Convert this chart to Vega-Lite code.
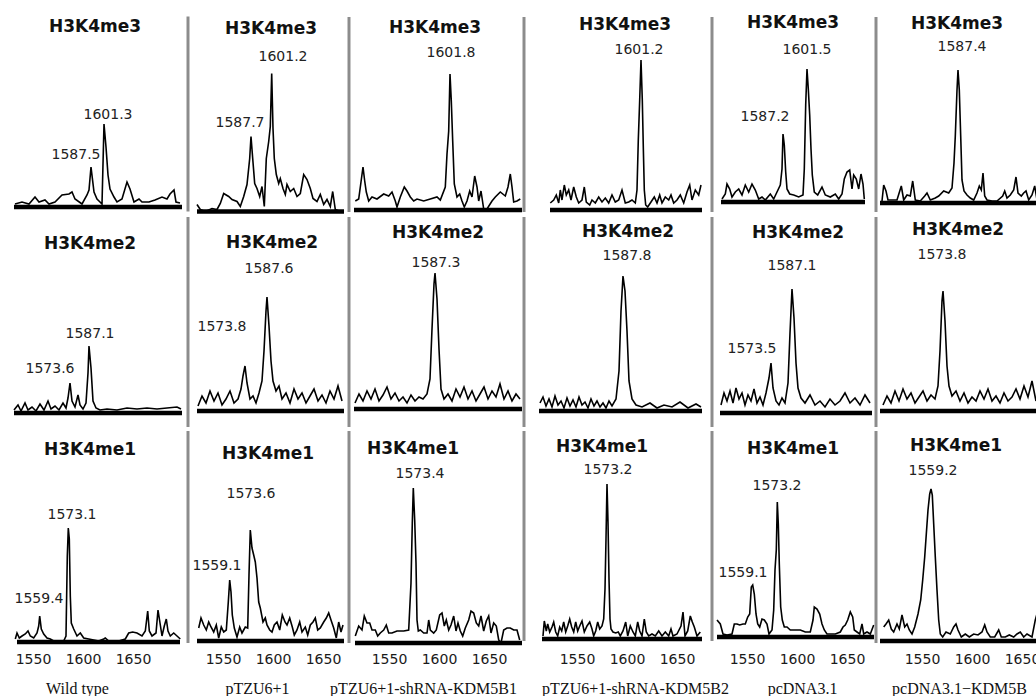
{
"$schema":"https://vega.github.io/schema/vega-lite/v6.json",
"background":"white",
"padding":{"left":10,"top":0,"right":0,"bottom":0},
"spacing":0,
"config":{"view":{"stroke":null},"line":{"color":"#000","strokeWidth":1.6},"text":{"font":"DejaVu Sans","fontSize":14,"color":"#222"},
"axis":{"domain":false,"ticks":false,"tickSize":0,"grid":false,"labelFont":"DejaVu Sans","labelFontSize":14,"labelColor":"#1a1a1a","labelPadding":9,"labelFlush":false,"titleFont":"Liberation Serif","titleFontSize":16,"titleFontWeight":"normal","titleColor":"#111","titleY":45,"titleBaseline":"middle"}},
"data":{"values":[
{"c":1,"r":3,"k":"t","x":1612,"y":180,"t":"H3K4me3"},{"c":1,"r":2,"k":"t","x":1607,"y":169,"t":"H3K4me2"},{"c":1,"r":1,"k":"t","x":1607,"y":192,"t":"H3K4me1"},
{"c":2,"r":3,"k":"t","x":1598,"y":183,"t":"H3K4me3"},{"c":2,"r":2,"k":"t","x":1599,"y":168,"t":"H3K4me2"},{"c":2,"r":1,"k":"t","x":1595,"y":187,"t":"H3K4me1"},
{"c":3,"r":3,"k":"t","x":1596,"y":182,"t":"H3K4me3"},{"c":3,"r":2,"k":"t","x":1599,"y":176,"t":"H3K4me2"},{"c":3,"r":1,"k":"t","x":1574,"y":194,"t":"H3K4me1"},
{"c":4,"r":3,"k":"t","x":1598,"y":185,"t":"H3K4me3"},{"c":4,"r":2,"k":"t","x":1601,"y":179,"t":"H3K4me2"},{"c":4,"r":1,"k":"t","x":1575,"y":192,"t":"H3K4me1"},
{"c":5,"r":3,"k":"t","x":1596,"y":179,"t":"H3K4me3"},{"c":5,"r":2,"k":"t","x":1601,"y":180,"t":"H3K4me2"},{"c":5,"r":1,"k":"t","x":1596,"y":188,"t":"H3K4me1"},
{"c":6,"r":3,"k":"t","x":1585,"y":179,"t":"H3K4me3"},{"c":6,"r":2,"k":"t","x":1586,"y":181,"t":"H3K4me2"},{"c":6,"r":1,"k":"t","x":1584,"y":195,"t":"H3K4me1"},
{"c":1,"r":3,"k":"p","x":1625,"y":92,"t":"1601.3"},{"c":1,"r":3,"k":"p","x":1593,"y":52,"t":"1587.5"},{"c":1,"r":2,"k":"p","x":1607,"y":79,"t":"1587.1"},{"c":1,"r":2,"k":"p","x":1567,"y":44,"t":"1573.6"},{"c":1,"r":1,"k":"p","x":1589,"y":127,"t":"1573.1"},{"c":1,"r":1,"k":"p","x":1556,"y":43,"t":"1559.4"},
{"c":2,"r":3,"k":"p","x":1610,"y":155,"t":"1601.2"},{"c":2,"r":3,"k":"p","x":1567,"y":89,"t":"1587.7"},{"c":2,"r":2,"k":"p","x":1596,"y":142,"t":"1587.6"},{"c":2,"r":2,"k":"p","x":1549,"y":84,"t":"1573.8"},{"c":2,"r":1,"k":"p","x":1578,"y":147,"t":"1573.6"},{"c":2,"r":1,"k":"p","x":1544,"y":75,"t":"1559.1"},
{"c":3,"r":3,"k":"p","x":1612,"y":157,"t":"1601.8"},{"c":3,"r":2,"k":"p","x":1597,"y":146,"t":"1587.3"},{"c":3,"r":1,"k":"p","x":1581,"y":169,"t":"1573.4"},
{"c":4,"r":3,"k":"p","x":1612,"y":160,"t":"1601.2"},{"c":4,"r":2,"k":"p","x":1600,"y":155,"t":"1587.8"},{"c":4,"r":1,"k":"p","x":1581,"y":169,"t":"1573.2"},
{"c":5,"r":3,"k":"p","x":1610,"y":152,"t":"1601.5"},{"c":5,"r":3,"k":"p","x":1568,"y":85,"t":"1587.2"},{"c":5,"r":2,"k":"p","x":1595,"y":147,"t":"1587.1"},{"c":5,"r":2,"k":"p","x":1555,"y":64,"t":"1573.5"},{"c":5,"r":1,"k":"p","x":1580,"y":151,"t":"1573.2"},{"c":5,"r":1,"k":"p","x":1546,"y":64,"t":"1559.1"},
{"c":6,"r":3,"k":"p","x":1590,"y":156,"t":"1587.4"},{"c":6,"r":2,"k":"p","x":1570,"y":156,"t":"1573.8"},{"c":6,"r":1,"k":"p","x":1561,"y":170,"t":"1559.2"},
{"c":1,"r":3,"k":"b","x":1531,"x2":1699,"y":0},{"c":1,"r":2,"k":"b","x":1531,"x2":1699,"y":0},{"c":1,"r":1,"k":"b","x":1534,"x2":1697,"y":0},
{"c":2,"r":3,"k":"b","x":1524,"x2":1671,"y":0},{"c":2,"r":2,"k":"b","x":1524,"x2":1671,"y":0},{"c":2,"r":1,"k":"b","x":1524,"x2":1671,"y":0},
{"c":3,"r":3,"k":"b","x":1515,"x2":1683,"y":0},{"c":3,"r":2,"k":"b","x":1515,"x2":1683,"y":0},{"c":3,"r":1,"k":"b","x":1516,"x2":1683,"y":0},
{"c":4,"r":3,"k":"b","x":1523,"x2":1675,"y":0},{"c":4,"r":2,"k":"b","x":1512,"x2":1675,"y":0},{"c":4,"r":1,"k":"b","x":1515,"x2":1675,"y":0},
{"c":5,"r":3,"k":"b","x":1524,"x2":1668,"y":0},{"c":5,"r":2,"k":"b","x":1523,"x2":1675,"y":0},{"c":5,"r":1,"k":"b","x":1520,"x2":1677,"y":0},
{"c":6,"r":3,"k":"b","x":1508,"x2":1666,"y":0},{"c":6,"r":2,"k":"b","x":1508,"x2":1666,"y":0},{"c":6,"r":1,"k":"b","x":1508,"x2":1666,"y":0},
{"c":1,"r":3,"x":1532,"y":3},{"c":1,"r":3,"x":1539,"y":5},{"c":1,"r":3,"x":1546,"y":3},{"c":1,"r":3,"x":1552,"y":10},{"c":1,"r":3,"x":1556,"y":5},{"c":1,"r":3,"x":1562,"y":7},{"c":1,"r":3,"x":1566,"y":3},{"c":1,"r":3,"x":1572,"y":5},{"c":1,"r":3,"x":1579,"y":12},{"c":1,"r":3,"x":1586,"y":13},{"c":1,"r":3,"x":1589,"y":15},{"c":1,"r":3,"x":1592,"y":8},{"c":1,"r":3,"x":1599,"y":3},{"c":1,"r":3,"x":1604,"y":12},{"c":1,"r":3,"x":1606,"y":17},{"c":1,"r":3,"x":1608,"y":40},{"c":1,"r":3,"x":1611,"y":15},{"c":1,"r":3,"x":1614,"y":8},{"c":1,"r":3,"x":1617,"y":5},{"c":1,"r":3,"x":1619,"y":3},{"c":1,"r":3,"x":1621,"y":83},{"c":1,"r":3,"x":1623,"y":60},{"c":1,"r":3,"x":1625,"y":32},{"c":1,"r":3,"x":1627,"y":18},{"c":1,"r":3,"x":1631,"y":10},{"c":1,"r":3,"x":1634,"y":5},{"c":1,"r":3,"x":1639,"y":8},{"c":1,"r":3,"x":1644,"y":25},{"c":1,"r":3,"x":1647,"y":18},{"c":1,"r":3,"x":1651,"y":5},{"c":1,"r":3,"x":1656,"y":8},{"c":1,"r":3,"x":1659,"y":5},{"c":1,"r":3,"x":1666,"y":5},{"c":1,"r":3,"x":1672,"y":7},{"c":1,"r":3,"x":1679,"y":10},{"c":1,"r":3,"x":1684,"y":8},{"c":1,"r":3,"x":1687,"y":13},{"c":1,"r":3,"x":1691,"y":17},{"c":1,"r":3,"x":1693,"y":5},{"c":1,"r":3,"x":1697,"y":4},
{"c":1,"r":2,"x":1531,"y":3},{"c":1,"r":2,"x":1535,"y":8},{"c":1,"r":2,"x":1538,"y":2},{"c":1,"r":2,"x":1542,"y":10},{"c":1,"r":2,"x":1545,"y":3},{"c":1,"r":2,"x":1549,"y":6},{"c":1,"r":2,"x":1553,"y":2},{"c":1,"r":2,"x":1557,"y":9},{"c":1,"r":2,"x":1561,"y":3},{"c":1,"r":2,"x":1565,"y":12},{"c":1,"r":2,"x":1568,"y":4},{"c":1,"r":2,"x":1572,"y":7},{"c":1,"r":2,"x":1576,"y":3},{"c":1,"r":2,"x":1580,"y":10},{"c":1,"r":2,"x":1583,"y":5},{"c":1,"r":2,"x":1585,"y":15},{"c":1,"r":2,"x":1587,"y":30},{"c":1,"r":2,"x":1589,"y":12},{"c":1,"r":2,"x":1592,"y":6},{"c":1,"r":2,"x":1595,"y":18},{"c":1,"r":2,"x":1597,"y":8},{"c":1,"r":2,"x":1600,"y":4},{"c":1,"r":2,"x":1603,"y":10},{"c":1,"r":2,"x":1605,"y":40},{"c":1,"r":2,"x":1606,"y":67},{"c":1,"r":2,"x":1608,"y":45},{"c":1,"r":2,"x":1610,"y":12},{"c":1,"r":2,"x":1613,"y":5},{"c":1,"r":2,"x":1617,"y":3},{"c":1,"r":2,"x":1624,"y":4},{"c":1,"r":2,"x":1634,"y":3},{"c":1,"r":2,"x":1644,"y":5},{"c":1,"r":2,"x":1654,"y":4},{"c":1,"r":2,"x":1664,"y":5},{"c":1,"r":2,"x":1674,"y":4},{"c":1,"r":2,"x":1684,"y":5},{"c":1,"r":2,"x":1694,"y":6},{"c":1,"r":2,"x":1698,"y":4},
{"c":1,"r":1,"x":1532.3,"y":3},{"c":1,"r":1,"x":1534,"y":9},{"c":1,"r":1,"x":1536.3,"y":4},{"c":1,"r":1,"x":1539,"y":6},{"c":1,"r":1,"x":1542.3,"y":8},{"c":1,"r":1,"x":1545,"y":11},{"c":1,"r":1,"x":1547.3,"y":6},{"c":1,"r":1,"x":1550.7,"y":4},{"c":1,"r":1,"x":1554,"y":9},{"c":1,"r":1,"x":1555.7,"y":16},{"c":1,"r":1,"x":1556.7,"y":26},{"c":1,"r":1,"x":1558.3,"y":13},{"c":1,"r":1,"x":1560.7,"y":8},{"c":1,"r":1,"x":1564,"y":4},{"c":1,"r":1,"x":1567.3,"y":3},{"c":1,"r":1,"x":1570.7,"y":1},{"c":1,"r":1,"x":1575.7,"y":1},{"c":1,"r":1,"x":1580.7,"y":1},{"c":1,"r":1,"x":1583,"y":6},{"c":1,"r":1,"x":1584.3,"y":86},{"c":1,"r":1,"x":1585.3,"y":114},{"c":1,"r":1,"x":1586.3,"y":103},{"c":1,"r":1,"x":1587.3,"y":46},{"c":1,"r":1,"x":1588.3,"y":19},{"c":1,"r":1,"x":1590.7,"y":13},{"c":1,"r":1,"x":1594,"y":6},{"c":1,"r":1,"x":1597.3,"y":9},{"c":1,"r":1,"x":1600.7,"y":4},{"c":1,"r":1,"x":1605.7,"y":3},{"c":1,"r":1,"x":1610.7,"y":2},{"c":1,"r":1,"x":1615.7,"y":1},{"c":1,"r":1,"x":1620.7,"y":3},{"c":1,"r":1,"x":1622.3,"y":4},{"c":1,"r":1,"x":1625.7,"y":1},{"c":1,"r":1,"x":1635.7,"y":1},{"c":1,"r":1,"x":1642.3,"y":3},{"c":1,"r":1,"x":1645.7,"y":9},{"c":1,"r":1,"x":1649.7,"y":10},{"c":1,"r":1,"x":1654,"y":9},{"c":1,"r":1,"x":1659,"y":6},{"c":1,"r":1,"x":1662.3,"y":11},{"c":1,"r":1,"x":1664.7,"y":31},{"c":1,"r":1,"x":1666.3,"y":11},{"c":1,"r":1,"x":1669,"y":6},{"c":1,"r":1,"x":1673,"y":9},{"c":1,"r":1,"x":1675,"y":32},{"c":1,"r":1,"x":1677,"y":19},{"c":1,"r":1,"x":1679,"y":6},{"c":1,"r":1,"x":1681.3,"y":16},{"c":1,"r":1,"x":1683.3,"y":23},{"c":1,"r":1,"x":1685,"y":11},{"c":1,"r":1,"x":1687.3,"y":6},{"c":1,"r":1,"x":1690.7,"y":9},{"c":1,"r":1,"x":1694,"y":6},{"c":1,"r":1,"x":1697.3,"y":3},
{"c":2,"r":3,"x":1524,"y":7},{"c":2,"r":3,"x":1527.3,"y":2},{"c":2,"r":3,"x":1532.3,"y":0},{"c":2,"r":3,"x":1539,"y":3},{"c":2,"r":3,"x":1544,"y":2},{"c":2,"r":3,"x":1547.3,"y":8},{"c":2,"r":3,"x":1550.7,"y":18},{"c":2,"r":3,"x":1555.7,"y":15},{"c":2,"r":3,"x":1559,"y":12},{"c":2,"r":3,"x":1564,"y":10},{"c":2,"r":3,"x":1567.3,"y":5},{"c":2,"r":3,"x":1570.7,"y":15},{"c":2,"r":3,"x":1574,"y":27},{"c":2,"r":3,"x":1576.7,"y":53},{"c":2,"r":3,"x":1578,"y":75},{"c":2,"r":3,"x":1579.7,"y":53},{"c":2,"r":3,"x":1581.7,"y":28},{"c":2,"r":3,"x":1584,"y":23},{"c":2,"r":3,"x":1586.7,"y":15},{"c":2,"r":3,"x":1589,"y":25},{"c":2,"r":3,"x":1591.3,"y":5},{"c":2,"r":3,"x":1593.3,"y":53},{"c":2,"r":3,"x":1595.7,"y":70},{"c":2,"r":3,"x":1597.3,"y":85},{"c":2,"r":3,"x":1598.7,"y":138},{"c":2,"r":3,"x":1600,"y":83},{"c":2,"r":3,"x":1601.3,"y":53},{"c":2,"r":3,"x":1603.3,"y":37},{"c":2,"r":3,"x":1605.7,"y":28},{"c":2,"r":3,"x":1607.3,"y":33},{"c":2,"r":3,"x":1610,"y":23},{"c":2,"r":3,"x":1612.3,"y":17},{"c":2,"r":3,"x":1614,"y":27},{"c":2,"r":3,"x":1617.3,"y":20},{"c":2,"r":3,"x":1620.7,"y":23},{"c":2,"r":3,"x":1624,"y":15},{"c":2,"r":3,"x":1627.3,"y":18},{"c":2,"r":3,"x":1630.7,"y":37},{"c":2,"r":3,"x":1634,"y":32},{"c":2,"r":3,"x":1637.3,"y":23},{"c":2,"r":3,"x":1640,"y":13},{"c":2,"r":3,"x":1644,"y":10},{"c":2,"r":3,"x":1647.3,"y":17},{"c":2,"r":3,"x":1650.7,"y":7},{"c":2,"r":3,"x":1654,"y":12},{"c":2,"r":3,"x":1657.3,"y":5},{"c":2,"r":3,"x":1659.7,"y":20},{"c":2,"r":3,"x":1662.3,"y":2},{"c":2,"r":3,"x":1667.3,"y":0},
{"c":2,"r":2,"x":1525,"y":5},{"c":2,"r":2,"x":1529,"y":15},{"c":2,"r":2,"x":1533,"y":8},{"c":2,"r":2,"x":1537,"y":20},{"c":2,"r":2,"x":1541,"y":10},{"c":2,"r":2,"x":1545,"y":18},{"c":2,"r":2,"x":1549,"y":6},{"c":2,"r":2,"x":1553,"y":12},{"c":2,"r":2,"x":1557,"y":20},{"c":2,"r":2,"x":1561,"y":8},{"c":2,"r":2,"x":1565,"y":12},{"c":2,"r":2,"x":1568,"y":22},{"c":2,"r":2,"x":1570,"y":35},{"c":2,"r":2,"x":1572,"y":45},{"c":2,"r":2,"x":1574,"y":28},{"c":2,"r":2,"x":1577,"y":12},{"c":2,"r":2,"x":1580,"y":15},{"c":2,"r":2,"x":1583,"y":8},{"c":2,"r":2,"x":1586,"y":18},{"c":2,"r":2,"x":1589,"y":30},{"c":2,"r":2,"x":1591,"y":60},{"c":2,"r":2,"x":1593,"y":100},{"c":2,"r":2,"x":1594,"y":114},{"c":2,"r":2,"x":1596,"y":85},{"c":2,"r":2,"x":1598,"y":50},{"c":2,"r":2,"x":1600,"y":30},{"c":2,"r":2,"x":1603,"y":20},{"c":2,"r":2,"x":1606,"y":25},{"c":2,"r":2,"x":1609,"y":12},{"c":2,"r":2,"x":1613,"y":18},{"c":2,"r":2,"x":1617,"y":8},{"c":2,"r":2,"x":1621,"y":22},{"c":2,"r":2,"x":1625,"y":12},{"c":2,"r":2,"x":1629,"y":18},{"c":2,"r":2,"x":1633,"y":8},{"c":2,"r":2,"x":1637,"y":15},{"c":2,"r":2,"x":1641,"y":22},{"c":2,"r":2,"x":1645,"y":10},{"c":2,"r":2,"x":1649,"y":16},{"c":2,"r":2,"x":1653,"y":8},{"c":2,"r":2,"x":1657,"y":20},{"c":2,"r":2,"x":1661,"y":12},{"c":2,"r":2,"x":1665,"y":25},{"c":2,"r":2,"x":1669,"y":10},
{"c":2,"r":1,"x":1525.7,"y":13},{"c":2,"r":1,"x":1528,"y":23},{"c":2,"r":1,"x":1530.7,"y":16},{"c":2,"r":1,"x":1533.3,"y":11},{"c":2,"r":1,"x":1535.7,"y":19},{"c":2,"r":1,"x":1538,"y":14},{"c":2,"r":1,"x":1540.7,"y":9},{"c":2,"r":1,"x":1543.3,"y":16},{"c":2,"r":1,"x":1545.7,"y":3},{"c":2,"r":1,"x":1548.3,"y":14},{"c":2,"r":1,"x":1550.7,"y":9},{"c":2,"r":1,"x":1553.3,"y":11},{"c":2,"r":1,"x":1555.3,"y":39},{"c":2,"r":1,"x":1556.7,"y":61},{"c":2,"r":1,"x":1558,"y":49},{"c":2,"r":1,"x":1559.3,"y":26},{"c":2,"r":1,"x":1561.3,"y":13},{"c":2,"r":1,"x":1564,"y":4},{"c":2,"r":1,"x":1566.7,"y":14},{"c":2,"r":1,"x":1569,"y":8},{"c":2,"r":1,"x":1572.3,"y":14},{"c":2,"r":1,"x":1574.7,"y":13},{"c":2,"r":1,"x":1576,"y":66},{"c":2,"r":1,"x":1577.3,"y":111},{"c":2,"r":1,"x":1579,"y":93},{"c":2,"r":1,"x":1580.7,"y":86},{"c":2,"r":1,"x":1582.3,"y":79},{"c":2,"r":1,"x":1584,"y":63},{"c":2,"r":1,"x":1585.7,"y":39},{"c":2,"r":1,"x":1587.3,"y":33},{"c":2,"r":1,"x":1590,"y":19},{"c":2,"r":1,"x":1592.3,"y":23},{"c":2,"r":1,"x":1594,"y":16},{"c":2,"r":1,"x":1596.7,"y":11},{"c":2,"r":1,"x":1599,"y":9},{"c":2,"r":1,"x":1601.3,"y":16},{"c":2,"r":1,"x":1604,"y":19},{"c":2,"r":1,"x":1606.7,"y":11},{"c":2,"r":1,"x":1609.3,"y":26},{"c":2,"r":1,"x":1612,"y":19},{"c":2,"r":1,"x":1614,"y":16},{"c":2,"r":1,"x":1616.7,"y":23},{"c":2,"r":1,"x":1619.3,"y":14},{"c":2,"r":1,"x":1621.3,"y":6},{"c":2,"r":1,"x":1624,"y":11},{"c":2,"r":1,"x":1626.7,"y":19},{"c":2,"r":1,"x":1629,"y":9},{"c":2,"r":1,"x":1632.3,"y":14},{"c":2,"r":1,"x":1634.7,"y":6},{"c":2,"r":1,"x":1637.3,"y":16},{"c":2,"r":1,"x":1640,"y":19},{"c":2,"r":1,"x":1642.3,"y":23},{"c":2,"r":1,"x":1644.7,"y":11},{"c":2,"r":1,"x":1647.3,"y":13},{"c":2,"r":1,"x":1650.7,"y":19},{"c":2,"r":1,"x":1653.3,"y":23},{"c":2,"r":1,"x":1655.7,"y":28},{"c":2,"r":1,"x":1658,"y":21},{"c":2,"r":1,"x":1660.7,"y":13},{"c":2,"r":1,"x":1663.3,"y":3},{"c":2,"r":1,"x":1665.7,"y":19},{"c":2,"r":1,"x":1668,"y":9},{"c":2,"r":1,"x":1670,"y":16},
{"c":3,"r":3,"x":1516.3,"y":9},{"c":3,"r":3,"x":1519.7,"y":11},{"c":3,"r":3,"x":1522,"y":28},{"c":3,"r":3,"x":1524,"y":43},{"c":3,"r":3,"x":1525.7,"y":29},{"c":3,"r":3,"x":1527.3,"y":18},{"c":3,"r":3,"x":1529.7,"y":9},{"c":3,"r":3,"x":1533,"y":13},{"c":3,"r":3,"x":1538,"y":11},{"c":3,"r":3,"x":1544.7,"y":16},{"c":3,"r":3,"x":1549.7,"y":14},{"c":3,"r":3,"x":1553,"y":18},{"c":3,"r":3,"x":1556.3,"y":9},{"c":3,"r":3,"x":1558,"y":3},{"c":3,"r":3,"x":1561.3,"y":13},{"c":3,"r":3,"x":1565.3,"y":23},{"c":3,"r":3,"x":1568,"y":19},{"c":3,"r":3,"x":1571.3,"y":13},{"c":3,"r":3,"x":1574.7,"y":9},{"c":3,"r":3,"x":1578,"y":11},{"c":3,"r":3,"x":1584.7,"y":9},{"c":3,"r":3,"x":1591.3,"y":11},{"c":3,"r":3,"x":1598,"y":13},{"c":3,"r":3,"x":1601.3,"y":10},{"c":3,"r":3,"x":1606.3,"y":23},{"c":3,"r":3,"x":1608,"y":56},{"c":3,"r":3,"x":1609.7,"y":79},{"c":3,"r":3,"x":1611,"y":136},{"c":3,"r":3,"x":1612.3,"y":109},{"c":3,"r":3,"x":1613.7,"y":69},{"c":3,"r":3,"x":1615.3,"y":26},{"c":3,"r":3,"x":1618,"y":13},{"c":3,"r":3,"x":1620.7,"y":16},{"c":3,"r":3,"x":1623,"y":9},{"c":3,"r":3,"x":1625.3,"y":3},{"c":3,"r":3,"x":1628,"y":9},{"c":3,"r":3,"x":1630.7,"y":19},{"c":3,"r":3,"x":1633,"y":13},{"c":3,"r":3,"x":1635.7,"y":34},{"c":3,"r":3,"x":1638,"y":23},{"c":3,"r":3,"x":1639.7,"y":9},{"c":3,"r":3,"x":1642,"y":19},{"c":3,"r":3,"x":1644.7,"y":1},{"c":3,"r":3,"x":1648,"y":1},{"c":3,"r":3,"x":1653,"y":9},{"c":3,"r":3,"x":1656.3,"y":13},{"c":3,"r":3,"x":1661.3,"y":18},{"c":3,"r":3,"x":1666.3,"y":14},{"c":3,"r":3,"x":1669,"y":23},{"c":3,"r":3,"x":1671.3,"y":36},{"c":3,"r":3,"x":1673,"y":23},{"c":3,"r":3,"x":1674.7,"y":8},{"c":3,"r":3,"x":1678,"y":9},{"c":3,"r":3,"x":1681.3,"y":11},
{"c":3,"r":2,"x":1516,"y":6},{"c":3,"r":2,"x":1520,"y":15},{"c":3,"r":2,"x":1524,"y":8},{"c":3,"r":2,"x":1528,"y":18},{"c":3,"r":2,"x":1532,"y":10},{"c":3,"r":2,"x":1536,"y":20},{"c":3,"r":2,"x":1540,"y":8},{"c":3,"r":2,"x":1544,"y":14},{"c":3,"r":2,"x":1548,"y":22},{"c":3,"r":2,"x":1552,"y":10},{"c":3,"r":2,"x":1556,"y":16},{"c":3,"r":2,"x":1560,"y":8},{"c":3,"r":2,"x":1564,"y":12},{"c":3,"r":2,"x":1568,"y":6},{"c":3,"r":2,"x":1572,"y":14},{"c":3,"r":2,"x":1576,"y":8},{"c":3,"r":2,"x":1580,"y":12},{"c":3,"r":2,"x":1584,"y":10},{"c":3,"r":2,"x":1588,"y":15},{"c":3,"r":2,"x":1591,"y":30},{"c":3,"r":2,"x":1593,"y":80},{"c":3,"r":2,"x":1595,"y":125},{"c":3,"r":2,"x":1596,"y":136},{"c":3,"r":2,"x":1598,"y":110},{"c":3,"r":2,"x":1600,"y":60},{"c":3,"r":2,"x":1602,"y":20},{"c":3,"r":2,"x":1605,"y":10},{"c":3,"r":2,"x":1609,"y":15},{"c":3,"r":2,"x":1613,"y":8},{"c":3,"r":2,"x":1617,"y":20},{"c":3,"r":2,"x":1621,"y":12},{"c":3,"r":2,"x":1625,"y":22},{"c":3,"r":2,"x":1629,"y":10},{"c":3,"r":2,"x":1633,"y":18},{"c":3,"r":2,"x":1637,"y":8},{"c":3,"r":2,"x":1641,"y":15},{"c":3,"r":2,"x":1645,"y":22},{"c":3,"r":2,"x":1649,"y":10},{"c":3,"r":2,"x":1653,"y":18},{"c":3,"r":2,"x":1657,"y":12},{"c":3,"r":2,"x":1661,"y":25},{"c":3,"r":2,"x":1665,"y":10},{"c":3,"r":2,"x":1669,"y":18},{"c":3,"r":2,"x":1673,"y":8},{"c":3,"r":2,"x":1677,"y":15},{"c":3,"r":2,"x":1681,"y":10},
{"c":3,"r":1,"x":1516.3,"y":7},{"c":3,"r":1,"x":1519.7,"y":17},{"c":3,"r":1,"x":1523,"y":13},{"c":3,"r":1,"x":1525.3,"y":27},{"c":3,"r":1,"x":1528,"y":20},{"c":3,"r":1,"x":1530.7,"y":20},{"c":3,"r":1,"x":1533,"y":13},{"c":3,"r":1,"x":1536.3,"y":13},{"c":3,"r":1,"x":1538.7,"y":7},{"c":3,"r":1,"x":1541.3,"y":10},{"c":3,"r":1,"x":1544.7,"y":13},{"c":3,"r":1,"x":1547.3,"y":18},{"c":3,"r":1,"x":1549.7,"y":10},{"c":3,"r":1,"x":1553,"y":10},{"c":3,"r":1,"x":1558,"y":12},{"c":3,"r":1,"x":1564.7,"y":12},{"c":3,"r":1,"x":1569.7,"y":13},{"c":3,"r":1,"x":1572,"y":60},{"c":3,"r":1,"x":1573.3,"y":120},{"c":3,"r":1,"x":1574.3,"y":155},{"c":3,"r":1,"x":1575.7,"y":123},{"c":3,"r":1,"x":1577,"y":80},{"c":3,"r":1,"x":1578,"y":23},{"c":3,"r":1,"x":1579.3,"y":12},{"c":3,"r":1,"x":1581.3,"y":13},{"c":3,"r":1,"x":1584.7,"y":10},{"c":3,"r":1,"x":1588,"y":10},{"c":3,"r":1,"x":1589.7,"y":23},{"c":3,"r":1,"x":1591.3,"y":13},{"c":3,"r":1,"x":1594.7,"y":10},{"c":3,"r":1,"x":1597.3,"y":13},{"c":3,"r":1,"x":1600.7,"y":28},{"c":3,"r":1,"x":1603,"y":30},{"c":3,"r":1,"x":1605.3,"y":17},{"c":3,"r":1,"x":1607.3,"y":23},{"c":3,"r":1,"x":1609.7,"y":13},{"c":3,"r":1,"x":1612,"y":18},{"c":3,"r":1,"x":1614.7,"y":27},{"c":3,"r":1,"x":1617,"y":12},{"c":3,"r":1,"x":1619,"y":20},{"c":3,"r":1,"x":1621.3,"y":12},{"c":3,"r":1,"x":1623.7,"y":7},{"c":3,"r":1,"x":1626.3,"y":15},{"c":3,"r":1,"x":1629.7,"y":23},{"c":3,"r":1,"x":1632,"y":32},{"c":3,"r":1,"x":1634.7,"y":30},{"c":3,"r":1,"x":1637.3,"y":20},{"c":3,"r":1,"x":1639.7,"y":17},{"c":3,"r":1,"x":1642,"y":27},{"c":3,"r":1,"x":1644.7,"y":12},{"c":3,"r":1,"x":1647.3,"y":22},{"c":3,"r":1,"x":1649.7,"y":27},{"c":3,"r":1,"x":1652,"y":10},{"c":3,"r":1,"x":1654.7,"y":20},{"c":3,"r":1,"x":1657.3,"y":17},{"c":3,"r":1,"x":1659.7,"y":3},{"c":3,"r":1,"x":1662,"y":0},{"c":3,"r":1,"x":1664.7,"y":13},{"c":3,"r":1,"x":1668,"y":15},{"c":3,"r":1,"x":1671.3,"y":15},{"c":3,"r":1,"x":1674.7,"y":13},{"c":3,"r":1,"x":1678,"y":13},{"c":3,"r":1,"x":1680.7,"y":3},
{"c":4,"r":3,"x":1523.3,"y":7},{"c":4,"r":3,"x":1526.7,"y":10},{"c":4,"r":3,"x":1529.3,"y":15},{"c":4,"r":3,"x":1531.7,"y":7},{"c":4,"r":3,"x":1533.3,"y":20},{"c":4,"r":3,"x":1535,"y":10},{"c":4,"r":3,"x":1537.3,"y":25},{"c":4,"r":3,"x":1539.3,"y":15},{"c":4,"r":3,"x":1541.7,"y":20},{"c":4,"r":3,"x":1544,"y":10},{"c":4,"r":3,"x":1546.7,"y":23},{"c":4,"r":3,"x":1549.3,"y":13},{"c":4,"r":3,"x":1551.7,"y":7},{"c":4,"r":3,"x":1555,"y":10},{"c":4,"r":3,"x":1557.3,"y":23},{"c":4,"r":3,"x":1559.3,"y":8},{"c":4,"r":3,"x":1562.7,"y":5},{"c":4,"r":3,"x":1565,"y":10},{"c":4,"r":3,"x":1568.3,"y":7},{"c":4,"r":3,"x":1571.7,"y":13},{"c":4,"r":3,"x":1575,"y":8},{"c":4,"r":3,"x":1578.3,"y":12},{"c":4,"r":3,"x":1581.7,"y":7},{"c":4,"r":3,"x":1585,"y":15},{"c":4,"r":3,"x":1588.3,"y":8},{"c":4,"r":3,"x":1591.7,"y":10},{"c":4,"r":3,"x":1595,"y":20},{"c":4,"r":3,"x":1598.3,"y":7},{"c":4,"r":3,"x":1601.7,"y":8},{"c":4,"r":3,"x":1605,"y":10},{"c":4,"r":3,"x":1608.3,"y":7},{"c":4,"r":3,"x":1610,"y":20},{"c":4,"r":3,"x":1611.3,"y":70},{"c":4,"r":3,"x":1612.7,"y":110},{"c":4,"r":3,"x":1614,"y":150},{"c":4,"r":3,"x":1615.3,"y":110},{"c":4,"r":3,"x":1616.3,"y":63},{"c":4,"r":3,"x":1617.3,"y":20},{"c":4,"r":3,"x":1618.7,"y":5},{"c":4,"r":3,"x":1620.7,"y":3},{"c":4,"r":3,"x":1624,"y":8},{"c":4,"r":3,"x":1627.3,"y":13},{"c":4,"r":3,"x":1630,"y":7},{"c":4,"r":3,"x":1632.7,"y":15},{"c":4,"r":3,"x":1635,"y":7},{"c":4,"r":3,"x":1638.3,"y":13},{"c":4,"r":3,"x":1641.7,"y":10},{"c":4,"r":3,"x":1644,"y":15},{"c":4,"r":3,"x":1646.7,"y":7},{"c":4,"r":3,"x":1650,"y":10},{"c":4,"r":3,"x":1653.3,"y":15},{"c":4,"r":3,"x":1656.7,"y":7},{"c":4,"r":3,"x":1660,"y":18},{"c":4,"r":3,"x":1662.7,"y":25},{"c":4,"r":3,"x":1665,"y":10},{"c":4,"r":3,"x":1668.3,"y":20},{"c":4,"r":3,"x":1671.7,"y":15},{"c":4,"r":3,"x":1674,"y":25},
{"c":4,"r":2,"x":1513,"y":8},{"c":4,"r":2,"x":1516,"y":14},{"c":4,"r":2,"x":1519,"y":5},{"c":4,"r":2,"x":1522,"y":12},{"c":4,"r":2,"x":1525,"y":4},{"c":4,"r":2,"x":1528,"y":15},{"c":4,"r":2,"x":1531,"y":6},{"c":4,"r":2,"x":1534,"y":10},{"c":4,"r":2,"x":1537,"y":3},{"c":4,"r":2,"x":1540,"y":13},{"c":4,"r":2,"x":1543,"y":5},{"c":4,"r":2,"x":1546,"y":11},{"c":4,"r":2,"x":1549,"y":4},{"c":4,"r":2,"x":1552,"y":14},{"c":4,"r":2,"x":1555,"y":6},{"c":4,"r":2,"x":1558,"y":9},{"c":4,"r":2,"x":1561,"y":3},{"c":4,"r":2,"x":1564,"y":12},{"c":4,"r":2,"x":1567,"y":5},{"c":4,"r":2,"x":1570,"y":10},{"c":4,"r":2,"x":1573,"y":4},{"c":4,"r":2,"x":1576,"y":8},{"c":4,"r":2,"x":1579,"y":3},{"c":4,"r":2,"x":1582,"y":10},{"c":4,"r":2,"x":1585,"y":5},{"c":4,"r":2,"x":1589,"y":12},{"c":4,"r":2,"x":1592,"y":40},{"c":4,"r":2,"x":1594,"y":100},{"c":4,"r":2,"x":1596,"y":135},{"c":4,"r":2,"x":1598,"y":120},{"c":4,"r":2,"x":1600,"y":80},{"c":4,"r":2,"x":1602,"y":30},{"c":4,"r":2,"x":1605,"y":12},{"c":4,"r":2,"x":1609,"y":6},{"c":4,"r":2,"x":1615,"y":4},{"c":4,"r":2,"x":1623,"y":8},{"c":4,"r":2,"x":1630,"y":3},{"c":4,"r":2,"x":1637,"y":6},{"c":4,"r":2,"x":1645,"y":4},{"c":4,"r":2,"x":1653,"y":9},{"c":4,"r":2,"x":1661,"y":3},{"c":4,"r":2,"x":1669,"y":7},{"c":4,"r":2,"x":1674,"y":4},
{"c":4,"r":1,"x":1516,"y":3},{"c":4,"r":1,"x":1517.3,"y":18},{"c":4,"r":1,"x":1519.3,"y":8},{"c":4,"r":1,"x":1520.7,"y":15},{"c":4,"r":1,"x":1522.7,"y":7},{"c":4,"r":1,"x":1525,"y":12},{"c":4,"r":1,"x":1526.7,"y":17},{"c":4,"r":1,"x":1528.7,"y":7},{"c":4,"r":1,"x":1530.7,"y":3},{"c":4,"r":1,"x":1532.7,"y":12},{"c":4,"r":1,"x":1534.7,"y":8},{"c":4,"r":1,"x":1536.7,"y":17},{"c":4,"r":1,"x":1538.7,"y":7},{"c":4,"r":1,"x":1540.7,"y":13},{"c":4,"r":1,"x":1542.7,"y":20},{"c":4,"r":1,"x":1544.7,"y":12},{"c":4,"r":1,"x":1546.7,"y":7},{"c":4,"r":1,"x":1548.7,"y":17},{"c":4,"r":1,"x":1550.7,"y":8},{"c":4,"r":1,"x":1552.7,"y":13},{"c":4,"r":1,"x":1555,"y":18},{"c":4,"r":1,"x":1557.3,"y":7},{"c":4,"r":1,"x":1560,"y":13},{"c":4,"r":1,"x":1562.7,"y":17},{"c":4,"r":1,"x":1565,"y":10},{"c":4,"r":1,"x":1566.7,"y":3},{"c":4,"r":1,"x":1568.7,"y":8},{"c":4,"r":1,"x":1570.7,"y":17},{"c":4,"r":1,"x":1572.7,"y":10},{"c":4,"r":1,"x":1575,"y":13},{"c":4,"r":1,"x":1576.7,"y":20},{"c":4,"r":1,"x":1578,"y":50},{"c":4,"r":1,"x":1579,"y":100},{"c":4,"r":1,"x":1580,"y":155},{"c":4,"r":1,"x":1581,"y":117},{"c":4,"r":1,"x":1582,"y":60},{"c":4,"r":1,"x":1583,"y":20},{"c":4,"r":1,"x":1584,"y":10},{"c":4,"r":1,"x":1586,"y":7},{"c":4,"r":1,"x":1588.7,"y":6},{"c":4,"r":1,"x":1591.3,"y":7},{"c":4,"r":1,"x":1593.3,"y":3},{"c":4,"r":1,"x":1596,"y":8},{"c":4,"r":1,"x":1598.7,"y":17},{"c":4,"r":1,"x":1600.7,"y":3},{"c":4,"r":1,"x":1603.3,"y":13},{"c":4,"r":1,"x":1606,"y":7},{"c":4,"r":1,"x":1608.3,"y":3},{"c":4,"r":1,"x":1610.7,"y":17},{"c":4,"r":1,"x":1612.7,"y":8},{"c":4,"r":1,"x":1615,"y":3},{"c":4,"r":1,"x":1617.3,"y":20},{"c":4,"r":1,"x":1619.3,"y":7},{"c":4,"r":1,"x":1621.7,"y":3},{"c":4,"r":1,"x":1625,"y":5},{"c":4,"r":1,"x":1628.3,"y":3},{"c":4,"r":1,"x":1631.7,"y":8},{"c":4,"r":1,"x":1635,"y":3},{"c":4,"r":1,"x":1638.3,"y":7},{"c":4,"r":1,"x":1641.7,"y":3},{"c":4,"r":1,"x":1644,"y":10},{"c":4,"r":1,"x":1646,"y":3},{"c":4,"r":1,"x":1650,"y":5},{"c":4,"r":1,"x":1654,"y":13},{"c":4,"r":1,"x":1656,"y":27},{"c":4,"r":1,"x":1658,"y":3},{"c":4,"r":1,"x":1660.7,"y":8},{"c":4,"r":1,"x":1663.3,"y":23},{"c":4,"r":1,"x":1665.3,"y":17},{"c":4,"r":1,"x":1667.3,"y":12},{"c":4,"r":1,"x":1670,"y":3},{"c":4,"r":1,"x":1673.3,"y":7},
{"c":5,"r":3,"x":1525,"y":3},{"c":5,"r":3,"x":1528.3,"y":8},{"c":5,"r":3,"x":1530,"y":18},{"c":5,"r":3,"x":1532.7,"y":13},{"c":5,"r":3,"x":1535,"y":5},{"c":5,"r":3,"x":1538.3,"y":10},{"c":5,"r":3,"x":1541.7,"y":13},{"c":5,"r":3,"x":1545,"y":7},{"c":5,"r":3,"x":1548.3,"y":17},{"c":5,"r":3,"x":1551.7,"y":10},{"c":5,"r":3,"x":1555,"y":18},{"c":5,"r":3,"x":1558.3,"y":12},{"c":5,"r":3,"x":1561.7,"y":3},{"c":5,"r":3,"x":1565,"y":5},{"c":5,"r":3,"x":1568.3,"y":2},{"c":5,"r":3,"x":1573.3,"y":8},{"c":5,"r":3,"x":1576.7,"y":3},{"c":5,"r":3,"x":1580,"y":10},{"c":5,"r":3,"x":1583.3,"y":17},{"c":5,"r":3,"x":1585,"y":33},{"c":5,"r":3,"x":1586,"y":68},{"c":5,"r":3,"x":1587.3,"y":57},{"c":5,"r":3,"x":1588.7,"y":30},{"c":5,"r":3,"x":1590,"y":13},{"c":5,"r":3,"x":1592.7,"y":8},{"c":5,"r":3,"x":1596.7,"y":7},{"c":5,"r":3,"x":1601.7,"y":5},{"c":5,"r":3,"x":1606,"y":7},{"c":5,"r":3,"x":1607.3,"y":33},{"c":5,"r":3,"x":1608.7,"y":97},{"c":5,"r":3,"x":1610,"y":133},{"c":5,"r":3,"x":1611.3,"y":113},{"c":5,"r":3,"x":1612.7,"y":87},{"c":5,"r":3,"x":1614,"y":53},{"c":5,"r":3,"x":1615.3,"y":27},{"c":5,"r":3,"x":1617.3,"y":10},{"c":5,"r":3,"x":1620.7,"y":7},{"c":5,"r":3,"x":1625,"y":15},{"c":5,"r":3,"x":1628.3,"y":7},{"c":5,"r":3,"x":1633.3,"y":5},{"c":5,"r":3,"x":1638.3,"y":8},{"c":5,"r":3,"x":1641.7,"y":3},{"c":5,"r":3,"x":1645,"y":8},{"c":5,"r":3,"x":1647.3,"y":23},{"c":5,"r":3,"x":1650,"y":30},{"c":5,"r":3,"x":1652.7,"y":32},{"c":5,"r":3,"x":1655,"y":13},{"c":5,"r":3,"x":1656.7,"y":27},{"c":5,"r":3,"x":1659.3,"y":23},{"c":5,"r":3,"x":1661.7,"y":13},{"c":5,"r":3,"x":1664,"y":28},{"c":5,"r":3,"x":1666,"y":18},{"c":5,"r":3,"x":1667.3,"y":3},
{"c":5,"r":2,"x":1524,"y":8},{"c":5,"r":2,"x":1527,"y":20},{"c":5,"r":2,"x":1530,"y":12},{"c":5,"r":2,"x":1533,"y":22},{"c":5,"r":2,"x":1536,"y":10},{"c":5,"r":2,"x":1539,"y":25},{"c":5,"r":2,"x":1542,"y":14},{"c":5,"r":2,"x":1545,"y":20},{"c":5,"r":2,"x":1548,"y":8},{"c":5,"r":2,"x":1551,"y":18},{"c":5,"r":2,"x":1554,"y":12},{"c":5,"r":2,"x":1557,"y":24},{"c":5,"r":2,"x":1560,"y":10},{"c":5,"r":2,"x":1563,"y":16},{"c":5,"r":2,"x":1566,"y":8},{"c":5,"r":2,"x":1569,"y":20},{"c":5,"r":2,"x":1572,"y":35},{"c":5,"r":2,"x":1574,"y":50},{"c":5,"r":2,"x":1576,"y":25},{"c":5,"r":2,"x":1579,"y":12},{"c":5,"r":2,"x":1582,"y":8},{"c":5,"r":2,"x":1585,"y":15},{"c":5,"r":2,"x":1588,"y":10},{"c":5,"r":2,"x":1591,"y":30},{"c":5,"r":2,"x":1593,"y":80},{"c":5,"r":2,"x":1595,"y":124},{"c":5,"r":2,"x":1597,"y":95},{"c":5,"r":2,"x":1599,"y":50},{"c":5,"r":2,"x":1601,"y":25},{"c":5,"r":2,"x":1604,"y":15},{"c":5,"r":2,"x":1608,"y":10},{"c":5,"r":2,"x":1613,"y":18},{"c":5,"r":2,"x":1618,"y":8},{"c":5,"r":2,"x":1623,"y":12},{"c":5,"r":2,"x":1628,"y":6},{"c":5,"r":2,"x":1633,"y":14},{"c":5,"r":2,"x":1638,"y":8},{"c":5,"r":2,"x":1643,"y":12},{"c":5,"r":2,"x":1648,"y":20},{"c":5,"r":2,"x":1653,"y":10},{"c":5,"r":2,"x":1658,"y":15},{"c":5,"r":2,"x":1663,"y":8},{"c":5,"r":2,"x":1668,"y":18},{"c":5,"r":2,"x":1673,"y":10},
{"c":5,"r":1,"x":1520,"y":17},{"c":5,"r":1,"x":1523.3,"y":13},{"c":5,"r":1,"x":1526,"y":3},{"c":5,"r":1,"x":1530,"y":2},{"c":5,"r":1,"x":1535,"y":3},{"c":5,"r":1,"x":1537.3,"y":13},{"c":5,"r":1,"x":1540,"y":13},{"c":5,"r":1,"x":1542.7,"y":12},{"c":5,"r":1,"x":1546,"y":13},{"c":5,"r":1,"x":1548.3,"y":13},{"c":5,"r":1,"x":1550.7,"y":20},{"c":5,"r":1,"x":1552.7,"y":23},{"c":5,"r":1,"x":1554.3,"y":50},{"c":5,"r":1,"x":1555.7,"y":52},{"c":5,"r":1,"x":1557.3,"y":43},{"c":5,"r":1,"x":1559,"y":23},{"c":5,"r":1,"x":1560.7,"y":13},{"c":5,"r":1,"x":1562.7,"y":10},{"c":5,"r":1,"x":1565,"y":18},{"c":5,"r":1,"x":1567.3,"y":17},{"c":5,"r":1,"x":1570,"y":13},{"c":5,"r":1,"x":1572,"y":3},{"c":5,"r":1,"x":1575,"y":7},{"c":5,"r":1,"x":1576.7,"y":27},{"c":5,"r":1,"x":1578,"y":67},{"c":5,"r":1,"x":1579.3,"y":87},{"c":5,"r":1,"x":1580.3,"y":135},{"c":5,"r":1,"x":1581.3,"y":113},{"c":5,"r":1,"x":1582.3,"y":73},{"c":5,"r":1,"x":1583.7,"y":30},{"c":5,"r":1,"x":1585.3,"y":17},{"c":5,"r":1,"x":1587.3,"y":10},{"c":5,"r":1,"x":1590,"y":10},{"c":5,"r":1,"x":1593.3,"y":7},{"c":5,"r":1,"x":1598.3,"y":7},{"c":5,"r":1,"x":1603.3,"y":7},{"c":5,"r":1,"x":1608.3,"y":5},{"c":5,"r":1,"x":1613.3,"y":5},{"c":5,"r":1,"x":1616,"y":17},{"c":5,"r":1,"x":1617.3,"y":30},{"c":5,"r":1,"x":1620,"y":28},{"c":5,"r":1,"x":1622.7,"y":23},{"c":5,"r":1,"x":1625,"y":13},{"c":5,"r":1,"x":1627.3,"y":7},{"c":5,"r":1,"x":1630,"y":3},{"c":5,"r":1,"x":1633.3,"y":3},{"c":5,"r":1,"x":1638.3,"y":3},{"c":5,"r":1,"x":1643.3,"y":5},{"c":5,"r":1,"x":1646,"y":10},{"c":5,"r":1,"x":1648.3,"y":12},{"c":5,"r":1,"x":1650.7,"y":17},{"c":5,"r":1,"x":1653.3,"y":25},{"c":5,"r":1,"x":1655.7,"y":20},{"c":5,"r":1,"x":1657.3,"y":7},{"c":5,"r":1,"x":1660,"y":5},{"c":5,"r":1,"x":1662.7,"y":3},{"c":5,"r":1,"x":1665,"y":13},{"c":5,"r":1,"x":1666.7,"y":3},{"c":5,"r":1,"x":1670,"y":5},{"c":5,"r":1,"x":1673.3,"y":3},{"c":5,"r":1,"x":1676.7,"y":12},
{"c":6,"r":3,"x":1510,"y":2},{"c":6,"r":3,"x":1511.7,"y":18},{"c":6,"r":3,"x":1514,"y":12},{"c":6,"r":3,"x":1516,"y":3},{"c":6,"r":3,"x":1520,"y":3},{"c":6,"r":3,"x":1525,"y":3},{"c":6,"r":3,"x":1529.3,"y":17},{"c":6,"r":3,"x":1531.7,"y":3},{"c":6,"r":3,"x":1535,"y":8},{"c":6,"r":3,"x":1538.3,"y":7},{"c":6,"r":3,"x":1540.7,"y":22},{"c":6,"r":3,"x":1543.3,"y":3},{"c":6,"r":3,"x":1548.3,"y":2},{"c":6,"r":3,"x":1552.7,"y":7},{"c":6,"r":3,"x":1555,"y":10},{"c":6,"r":3,"x":1558.3,"y":3},{"c":6,"r":3,"x":1563.3,"y":5},{"c":6,"r":3,"x":1566.7,"y":7},{"c":6,"r":3,"x":1571.7,"y":12},{"c":6,"r":3,"x":1576.7,"y":10},{"c":6,"r":3,"x":1580,"y":15},{"c":6,"r":3,"x":1582,"y":40},{"c":6,"r":3,"x":1583.3,"y":67},{"c":6,"r":3,"x":1585,"y":113},{"c":6,"r":3,"x":1586,"y":133},{"c":6,"r":3,"x":1587.3,"y":113},{"c":6,"r":3,"x":1588.7,"y":67},{"c":6,"r":3,"x":1590,"y":23},{"c":6,"r":3,"x":1592,"y":12},{"c":6,"r":3,"x":1595,"y":8},{"c":6,"r":3,"x":1598.3,"y":5},{"c":6,"r":3,"x":1601.7,"y":3},{"c":6,"r":3,"x":1605,"y":10},{"c":6,"r":3,"x":1607.3,"y":17},{"c":6,"r":3,"x":1609.3,"y":13},{"c":6,"r":3,"x":1611,"y":30},{"c":6,"r":3,"x":1612.7,"y":7},{"c":6,"r":3,"x":1615,"y":3},{"c":6,"r":3,"x":1620,"y":2},{"c":6,"r":3,"x":1625,"y":2},{"c":6,"r":3,"x":1630.7,"y":7},{"c":6,"r":3,"x":1632.7,"y":12},{"c":6,"r":3,"x":1635,"y":5},{"c":6,"r":3,"x":1638.3,"y":8},{"c":6,"r":3,"x":1641.7,"y":13},{"c":6,"r":3,"x":1644,"y":26},{"c":6,"r":3,"x":1646,"y":10},{"c":6,"r":3,"x":1649.3,"y":7},{"c":6,"r":3,"x":1651.7,"y":10},{"c":6,"r":3,"x":1654,"y":12},{"c":6,"r":3,"x":1656.7,"y":3},{"c":6,"r":3,"x":1660,"y":8},{"c":6,"r":3,"x":1662.7,"y":17},{"c":6,"r":3,"x":1665,"y":3},
{"c":6,"r":2,"x":1511,"y":6},{"c":6,"r":2,"x":1515,"y":15},{"c":6,"r":2,"x":1519,"y":8},{"c":6,"r":2,"x":1523,"y":20},{"c":6,"r":2,"x":1527,"y":10},{"c":6,"r":2,"x":1531,"y":22},{"c":6,"r":2,"x":1535,"y":12},{"c":6,"r":2,"x":1539,"y":18},{"c":6,"r":2,"x":1543,"y":8},{"c":6,"r":2,"x":1547,"y":14},{"c":6,"r":2,"x":1551,"y":20},{"c":6,"r":2,"x":1555,"y":10},{"c":6,"r":2,"x":1559,"y":16},{"c":6,"r":2,"x":1563,"y":12},{"c":6,"r":2,"x":1566,"y":25},{"c":6,"r":2,"x":1568,"y":60},{"c":6,"r":2,"x":1570,"y":110},{"c":6,"r":2,"x":1571,"y":120},{"c":6,"r":2,"x":1573,"y":90},{"c":6,"r":2,"x":1575,"y":45},{"c":6,"r":2,"x":1577,"y":25},{"c":6,"r":2,"x":1580,"y":15},{"c":6,"r":2,"x":1584,"y":20},{"c":6,"r":2,"x":1588,"y":10},{"c":6,"r":2,"x":1592,"y":18},{"c":6,"r":2,"x":1596,"y":8},{"c":6,"r":2,"x":1600,"y":14},{"c":6,"r":2,"x":1604,"y":10},{"c":6,"r":2,"x":1608,"y":20},{"c":6,"r":2,"x":1612,"y":12},{"c":6,"r":2,"x":1616,"y":22},{"c":6,"r":2,"x":1620,"y":10},{"c":6,"r":2,"x":1624,"y":15},{"c":6,"r":2,"x":1628,"y":8},{"c":6,"r":2,"x":1632,"y":18},{"c":6,"r":2,"x":1636,"y":10},{"c":6,"r":2,"x":1640,"y":14},{"c":6,"r":2,"x":1644,"y":22},{"c":6,"r":2,"x":1648,"y":12},{"c":6,"r":2,"x":1652,"y":25},{"c":6,"r":2,"x":1656,"y":14},{"c":6,"r":2,"x":1660,"y":30},{"c":6,"r":2,"x":1664,"y":10},
{"c":6,"r":1,"x":1511.7,"y":14},{"c":6,"r":1,"x":1514,"y":17},{"c":6,"r":1,"x":1516.7,"y":21},{"c":6,"r":1,"x":1519.3,"y":12},{"c":6,"r":1,"x":1521.7,"y":9},{"c":6,"r":1,"x":1525,"y":17},{"c":6,"r":1,"x":1527.3,"y":12},{"c":6,"r":1,"x":1530,"y":26},{"c":6,"r":1,"x":1532.7,"y":14},{"c":6,"r":1,"x":1535,"y":17},{"c":6,"r":1,"x":1537.3,"y":11},{"c":6,"r":1,"x":1540,"y":7},{"c":6,"r":1,"x":1542.7,"y":14},{"c":6,"r":1,"x":1546,"y":27},{"c":6,"r":1,"x":1548.7,"y":41},{"c":6,"r":1,"x":1550.7,"y":61},{"c":6,"r":1,"x":1552.7,"y":84},{"c":6,"r":1,"x":1554.3,"y":107},{"c":6,"r":1,"x":1556,"y":131},{"c":6,"r":1,"x":1557.7,"y":147},{"c":6,"r":1,"x":1559,"y":152},{"c":6,"r":1,"x":1560.3,"y":146},{"c":6,"r":1,"x":1561.7,"y":117},{"c":6,"r":1,"x":1563.3,"y":84},{"c":6,"r":1,"x":1565,"y":51},{"c":6,"r":1,"x":1566.7,"y":21},{"c":6,"r":1,"x":1568.3,"y":7},{"c":6,"r":1,"x":1570.7,"y":4},{"c":6,"r":1,"x":1574,"y":9},{"c":6,"r":1,"x":1578.3,"y":7},{"c":6,"r":1,"x":1581.7,"y":14},{"c":6,"r":1,"x":1584,"y":17},{"c":6,"r":1,"x":1586,"y":11},{"c":6,"r":1,"x":1589.3,"y":4},{"c":6,"r":1,"x":1593.3,"y":7},{"c":6,"r":1,"x":1597.3,"y":4},{"c":6,"r":1,"x":1601.7,"y":7},{"c":6,"r":1,"x":1606,"y":6},{"c":6,"r":1,"x":1610,"y":9},{"c":6,"r":1,"x":1612.7,"y":16},{"c":6,"r":1,"x":1615,"y":9},{"c":6,"r":1,"x":1618.3,"y":4},{"c":6,"r":1,"x":1622.7,"y":4},{"c":6,"r":1,"x":1626.7,"y":11},{"c":6,"r":1,"x":1629.3,"y":4},{"c":6,"r":1,"x":1633.3,"y":4},{"c":6,"r":1,"x":1637.3,"y":6},{"c":6,"r":1,"x":1641.7,"y":4},{"c":6,"r":1,"x":1645,"y":7},{"c":6,"r":1,"x":1648.3,"y":9},{"c":6,"r":1,"x":1651.7,"y":4},{"c":6,"r":1,"x":1655,"y":7},{"c":6,"r":1,"x":1660,"y":4},{"c":6,"r":1,"x":1663.3,"y":21},{"c":6,"r":1,"x":1665,"y":27}
]},
"vconcat":[
{"bounds":"flush","spacing":0,"hconcat":[
 {"width":176,"height":214,"transform":[{"filter":"datum.c==1&&datum.r==3"}],"encoding":{"x":{"field":"x","type":"quantitative","scale":{"domain":[1529,1705],"nice":false,"zero":false},"axis":null},"y":{"field":"y","type":"quantitative","scale":{"domain":[-7,207],"nice":false,"zero":false},"axis":null}},
  "layer":[{"transform":[{"filter":"!datum.k"}],"mark":"line","encoding":{}},{"transform":[{"filter":"datum.k=='b'"}],"mark":{"type":"rule","color":"#000","strokeWidth":4.5},"encoding":{"x2":{"field":"x2"}}},{"transform":[{"filter":"datum.k=='t'"}],"mark":{"type":"text","fontWeight":"bold","fontSize":17,"color":"#111"},"encoding":{"text":{"field":"t"}}},{"transform":[{"filter":"datum.k=='p'"}],"mark":"text","encoding":{"text":{"field":"t"}}}]},
 {"width":161,"height":214,"transform":[{"filter":"datum.c==2&&datum.r==3"}],"encoding":{"x":{"field":"x","type":"quantitative","scale":{"domain":[1515,1676],"nice":false,"zero":false},"axis":null},"y":{"field":"y","type":"quantitative","scale":{"domain":[-2.5,211.5],"nice":false,"zero":false},"axis":null}},
  "layer":[{"transform":[{"filter":"datum.k=='t'"}],"mark":{"type":"rule","color":"#8c8c8c","strokeWidth":3},"encoding":{"x":{"datum":1515},"y":{"datum":195},"y2":{"datum":0}}},{"transform":[{"filter":"!datum.k"}],"mark":"line","encoding":{}},{"transform":[{"filter":"datum.k=='b'"}],"mark":{"type":"rule","color":"#000","strokeWidth":4.5},"encoding":{"x2":{"field":"x2"}}},{"transform":[{"filter":"datum.k=='t'"}],"mark":{"type":"text","fontWeight":"bold","fontSize":17,"color":"#111"},"encoding":{"text":{"field":"t"}}},{"transform":[{"filter":"datum.k=='p'"}],"mark":"text","encoding":{"text":{"field":"t"}}}]},
 {"width":175,"height":214,"transform":[{"filter":"datum.c==3&&datum.r==3"}],"encoding":{"x":{"field":"x","type":"quantitative","scale":{"domain":[1510,1685],"nice":false,"zero":false},"axis":null},"y":{"field":"y","type":"quantitative","scale":{"domain":[-4,210],"nice":false,"zero":false},"axis":null}},
  "layer":[{"transform":[{"filter":"datum.k=='t'"}],"mark":{"type":"rule","color":"#8c8c8c","strokeWidth":3},"encoding":{"x":{"datum":1510},"y":{"datum":193},"y2":{"datum":-2}}},{"transform":[{"filter":"!datum.k"}],"mark":"line","encoding":{}},{"transform":[{"filter":"datum.k=='b'"}],"mark":{"type":"rule","color":"#000","strokeWidth":4.5},"encoding":{"x2":{"field":"x2"}}},{"transform":[{"filter":"datum.k=='t'"}],"mark":{"type":"text","fontWeight":"bold","fontSize":17,"color":"#111"},"encoding":{"text":{"field":"t"}}},{"transform":[{"filter":"datum.k=='p'"}],"mark":"text","encoding":{"text":{"field":"t"}}}]},
 {"width":188,"height":214,"transform":[{"filter":"datum.c==4&&datum.r==3"}],"encoding":{"x":{"field":"x","type":"quantitative","scale":{"domain":[1497,1685],"nice":false,"zero":false},"axis":null},"y":{"field":"y","type":"quantitative","scale":{"domain":[-4,210],"nice":false,"zero":false},"axis":null}},
  "layer":[{"transform":[{"filter":"datum.k=='t'"}],"mark":{"type":"rule","color":"#8c8c8c","strokeWidth":3},"encoding":{"x":{"datum":1497},"y":{"datum":193},"y2":{"datum":-2}}},{"transform":[{"filter":"!datum.k"}],"mark":"line","encoding":{}},{"transform":[{"filter":"datum.k=='b'"}],"mark":{"type":"rule","color":"#000","strokeWidth":4.5},"encoding":{"x2":{"field":"x2"}}},{"transform":[{"filter":"datum.k=='t'"}],"mark":{"type":"text","fontWeight":"bold","fontSize":17,"color":"#111"},"encoding":{"text":{"field":"t"}}},{"transform":[{"filter":"datum.k=='p'"}],"mark":"text","encoding":{"text":{"field":"t"}}}]},
 {"width":164,"height":214,"transform":[{"filter":"datum.c==5&&datum.r==3"}],"encoding":{"x":{"field":"x","type":"quantitative","scale":{"domain":[1515,1679],"nice":false,"zero":false},"axis":null},"y":{"field":"y","type":"quantitative","scale":{"domain":[-12,202],"nice":false,"zero":false},"axis":null}},
  "layer":[{"transform":[{"filter":"datum.k=='t'"}],"mark":{"type":"rule","color":"#8c8c8c","strokeWidth":3},"encoding":{"x":{"datum":1515},"y":{"datum":185},"y2":{"datum":-10}}},{"transform":[{"filter":"!datum.k"}],"mark":"line","encoding":{}},{"transform":[{"filter":"datum.k=='b'"}],"mark":{"type":"rule","color":"#000","strokeWidth":4.5},"encoding":{"x2":{"field":"x2"}}},{"transform":[{"filter":"datum.k=='t'"}],"mark":{"type":"text","fontWeight":"bold","fontSize":17,"color":"#111"},"encoding":{"text":{"field":"t"}}},{"transform":[{"filter":"datum.k=='p'"}],"mark":"text","encoding":{"text":{"field":"t"}}}]},
 {"width":162,"height":214,"transform":[{"filter":"datum.c==6&&datum.r==3"}],"encoding":{"x":{"field":"x","type":"quantitative","scale":{"domain":[1504,1666],"nice":false,"zero":false},"axis":null},"y":{"field":"y","type":"quantitative","scale":{"domain":[-11,203],"nice":false,"zero":false},"axis":null}},
  "layer":[{"transform":[{"filter":"datum.k=='t'"}],"mark":{"type":"rule","color":"#8c8c8c","strokeWidth":3},"encoding":{"x":{"datum":1504},"y":{"datum":186},"y2":{"datum":-9}}},{"transform":[{"filter":"!datum.k"}],"mark":"line","encoding":{}},{"transform":[{"filter":"datum.k=='b'"}],"mark":{"type":"rule","color":"#000","strokeWidth":4.5},"encoding":{"x2":{"field":"x2"}}},{"transform":[{"filter":"datum.k=='t'"}],"mark":{"type":"text","fontWeight":"bold","fontSize":17,"color":"#111"},"encoding":{"text":{"field":"t"}}},{"transform":[{"filter":"datum.k=='p'"}],"mark":"text","encoding":{"text":{"field":"t"}}}]}
]},
{"bounds":"flush","spacing":0,"hconcat":[
 {"width":176,"height":214,"transform":[{"filter":"datum.c==1&&datum.r==2"}],"encoding":{"x":{"field":"x","type":"quantitative","scale":{"domain":[1529,1705],"nice":false,"zero":false},"axis":null},"y":{"field":"y","type":"quantitative","scale":{"domain":[-16,198],"nice":false,"zero":false},"axis":null}},
  "layer":[{"transform":[{"filter":"!datum.k"}],"mark":"line","encoding":{}},{"transform":[{"filter":"datum.k=='b'"}],"mark":{"type":"rule","color":"#000","strokeWidth":4.5},"encoding":{"x2":{"field":"x2"}}},{"transform":[{"filter":"datum.k=='t'"}],"mark":{"type":"text","fontWeight":"bold","fontSize":17,"color":"#111"},"encoding":{"text":{"field":"t"}}},{"transform":[{"filter":"datum.k=='p'"}],"mark":"text","encoding":{"text":{"field":"t"}}}]},
 {"width":161,"height":214,"transform":[{"filter":"datum.c==2&&datum.r==2"}],"encoding":{"x":{"field":"x","type":"quantitative","scale":{"domain":[1515,1676],"nice":false,"zero":false},"axis":null},"y":{"field":"y","type":"quantitative","scale":{"domain":[-18,196],"nice":false,"zero":false},"axis":null}},
  "layer":[{"transform":[{"filter":"datum.k=='t'"}],"mark":{"type":"rule","color":"#8c8c8c","strokeWidth":3},"encoding":{"x":{"datum":1515},"y":{"datum":194},"y2":{"datum":-16}}},{"transform":[{"filter":"!datum.k"}],"mark":"line","encoding":{}},{"transform":[{"filter":"datum.k=='b'"}],"mark":{"type":"rule","color":"#000","strokeWidth":4.5},"encoding":{"x2":{"field":"x2"}}},{"transform":[{"filter":"datum.k=='t'"}],"mark":{"type":"text","fontWeight":"bold","fontSize":17,"color":"#111"},"encoding":{"text":{"field":"t"}}},{"transform":[{"filter":"datum.k=='p'"}],"mark":"text","encoding":{"text":{"field":"t"}}}]},
 {"width":175,"height":214,"transform":[{"filter":"datum.c==3&&datum.r==2"}],"encoding":{"x":{"field":"x","type":"quantitative","scale":{"domain":[1510,1685],"nice":false,"zero":false},"axis":null},"y":{"field":"y","type":"quantitative","scale":{"domain":[-20,194],"nice":false,"zero":false},"axis":null}},
  "layer":[{"transform":[{"filter":"datum.k=='t'"}],"mark":{"type":"rule","color":"#8c8c8c","strokeWidth":3},"encoding":{"x":{"datum":1510},"y":{"datum":192},"y2":{"datum":-18}}},{"transform":[{"filter":"!datum.k"}],"mark":"line","encoding":{}},{"transform":[{"filter":"datum.k=='b'"}],"mark":{"type":"rule","color":"#000","strokeWidth":4.5},"encoding":{"x2":{"field":"x2"}}},{"transform":[{"filter":"datum.k=='t'"}],"mark":{"type":"text","fontWeight":"bold","fontSize":17,"color":"#111"},"encoding":{"text":{"field":"t"}}},{"transform":[{"filter":"datum.k=='p'"}],"mark":"text","encoding":{"text":{"field":"t"}}}]},
 {"width":188,"height":214,"transform":[{"filter":"datum.c==4&&datum.r==2"}],"encoding":{"x":{"field":"x","type":"quantitative","scale":{"domain":[1497,1685],"nice":false,"zero":false},"axis":null},"y":{"field":"y","type":"quantitative","scale":{"domain":[-18,196],"nice":false,"zero":false},"axis":null}},
  "layer":[{"transform":[{"filter":"datum.k=='t'"}],"mark":{"type":"rule","color":"#8c8c8c","strokeWidth":3},"encoding":{"x":{"datum":1497},"y":{"datum":194},"y2":{"datum":-16}}},{"transform":[{"filter":"!datum.k"}],"mark":"line","encoding":{}},{"transform":[{"filter":"datum.k=='b'"}],"mark":{"type":"rule","color":"#000","strokeWidth":4.5},"encoding":{"x2":{"field":"x2"}}},{"transform":[{"filter":"datum.k=='t'"}],"mark":{"type":"text","fontWeight":"bold","fontSize":17,"color":"#111"},"encoding":{"text":{"field":"t"}}},{"transform":[{"filter":"datum.k=='p'"}],"mark":"text","encoding":{"text":{"field":"t"}}}]},
 {"width":164,"height":214,"transform":[{"filter":"datum.c==5&&datum.r==2"}],"encoding":{"x":{"field":"x","type":"quantitative","scale":{"domain":[1515,1679],"nice":false,"zero":false},"axis":null},"y":{"field":"y","type":"quantitative","scale":{"domain":[-16,198],"nice":false,"zero":false},"axis":null}},
  "layer":[{"transform":[{"filter":"datum.k=='t'"}],"mark":{"type":"rule","color":"#8c8c8c","strokeWidth":3},"encoding":{"x":{"datum":1515},"y":{"datum":196},"y2":{"datum":-14}}},{"transform":[{"filter":"!datum.k"}],"mark":"line","encoding":{}},{"transform":[{"filter":"datum.k=='b'"}],"mark":{"type":"rule","color":"#000","strokeWidth":4.5},"encoding":{"x2":{"field":"x2"}}},{"transform":[{"filter":"datum.k=='t'"}],"mark":{"type":"text","fontWeight":"bold","fontSize":17,"color":"#111"},"encoding":{"text":{"field":"t"}}},{"transform":[{"filter":"datum.k=='p'"}],"mark":"text","encoding":{"text":{"field":"t"}}}]},
 {"width":162,"height":214,"transform":[{"filter":"datum.c==6&&datum.r==2"}],"encoding":{"x":{"field":"x","type":"quantitative","scale":{"domain":[1504,1666],"nice":false,"zero":false},"axis":null},"y":{"field":"y","type":"quantitative","scale":{"domain":[-18,196],"nice":false,"zero":false},"axis":null}},
  "layer":[{"transform":[{"filter":"datum.k=='t'"}],"mark":{"type":"rule","color":"#8c8c8c","strokeWidth":3},"encoding":{"x":{"datum":1504},"y":{"datum":194},"y2":{"datum":-16}}},{"transform":[{"filter":"!datum.k"}],"mark":"line","encoding":{}},{"transform":[{"filter":"datum.k=='b'"}],"mark":{"type":"rule","color":"#000","strokeWidth":4.5},"encoding":{"x2":{"field":"x2"}}},{"transform":[{"filter":"datum.k=='t'"}],"mark":{"type":"text","fontWeight":"bold","fontSize":17,"color":"#111"},"encoding":{"text":{"field":"t"}}},{"transform":[{"filter":"datum.k=='p'"}],"mark":"text","encoding":{"text":{"field":"t"}}}]}
]},
{"bounds":"flush","spacing":0,"hconcat":[
 {"width":176,"height":214,"transform":[{"filter":"datum.c==1&&datum.r==1"}],"encoding":{"x":{"field":"x","type":"quantitative","scale":{"domain":[1529,1705],"nice":false,"zero":false},"axis":{"values":[1550,1600,1650],"format":"d","title":"Wild type","titleX":65}},"y":{"field":"y","type":"quantitative","scale":{"domain":[-1,213],"nice":false,"zero":false},"axis":null}},
  "layer":[{"transform":[{"filter":"!datum.k"}],"mark":"line","encoding":{}},{"transform":[{"filter":"datum.k=='b'"}],"mark":{"type":"rule","color":"#000","strokeWidth":4.5},"encoding":{"x2":{"field":"x2"}}},{"transform":[{"filter":"datum.k=='t'"}],"mark":{"type":"text","fontWeight":"bold","fontSize":17,"color":"#111"},"encoding":{"text":{"field":"t"}}},{"transform":[{"filter":"datum.k=='p'"}],"mark":"text","encoding":{"text":{"field":"t"}}}]},
 {"width":161,"height":214,"transform":[{"filter":"datum.c==2&&datum.r==1"}],"encoding":{"x":{"field":"x","type":"quantitative","scale":{"domain":[1515,1676],"nice":false,"zero":false},"axis":{"values":[1550,1600,1650],"format":"d","title":"pTZU6+1","titleX":69}},"y":{"field":"y","type":"quantitative","scale":{"domain":[-2,212],"nice":false,"zero":false},"axis":null}},
  "layer":[{"transform":[{"filter":"datum.k=='t'"}],"mark":{"type":"rule","color":"#8c8c8c","strokeWidth":3},"encoding":{"x":{"datum":1515},"y":{"datum":210},"y2":{"datum":-2}}},{"transform":[{"filter":"!datum.k"}],"mark":"line","encoding":{}},{"transform":[{"filter":"datum.k=='b'"}],"mark":{"type":"rule","color":"#000","strokeWidth":4.5},"encoding":{"x2":{"field":"x2"}}},{"transform":[{"filter":"datum.k=='t'"}],"mark":{"type":"text","fontWeight":"bold","fontSize":17,"color":"#111"},"encoding":{"text":{"field":"t"}}},{"transform":[{"filter":"datum.k=='p'"}],"mark":"text","encoding":{"text":{"field":"t"}}}]},
 {"width":175,"height":214,"transform":[{"filter":"datum.c==3&&datum.r==1"}],"encoding":{"x":{"field":"x","type":"quantitative","scale":{"domain":[1510,1685],"nice":false,"zero":false},"axis":{"values":[1550,1600,1650],"format":"d","title":"pTZU6+1-shRNA-KDM5B1","titleX":74}},"y":{"field":"y","type":"quantitative","scale":{"domain":[0,214],"nice":false,"zero":false},"axis":null}},
  "layer":[{"transform":[{"filter":"datum.k=='t'"}],"mark":{"type":"rule","color":"#8c8c8c","strokeWidth":3},"encoding":{"x":{"datum":1510},"y":{"datum":212},"y2":{"datum":0}}},{"transform":[{"filter":"!datum.k"}],"mark":"line","encoding":{}},{"transform":[{"filter":"datum.k=='b'"}],"mark":{"type":"rule","color":"#000","strokeWidth":4.5},"encoding":{"x2":{"field":"x2"}}},{"transform":[{"filter":"datum.k=='t'"}],"mark":{"type":"text","fontWeight":"bold","fontSize":17,"color":"#111"},"encoding":{"text":{"field":"t"}}},{"transform":[{"filter":"datum.k=='p'"}],"mark":"text","encoding":{"text":{"field":"t"}}}]},
 {"width":188,"height":214,"transform":[{"filter":"datum.c==4&&datum.r==1"}],"encoding":{"x":{"field":"x","type":"quantitative","scale":{"domain":[1497,1685],"nice":false,"zero":false},"axis":{"values":[1550,1600,1650],"format":"d","title":"pTZU6+1-shRNA-KDM5B2","titleX":111}},"y":{"field":"y","type":"quantitative","scale":{"domain":[-4,210],"nice":false,"zero":false},"axis":null}},
  "layer":[{"transform":[{"filter":"datum.k=='t'"}],"mark":{"type":"rule","color":"#8c8c8c","strokeWidth":3},"encoding":{"x":{"datum":1497},"y":{"datum":208},"y2":{"datum":-2}}},{"transform":[{"filter":"!datum.k"}],"mark":"line","encoding":{}},{"transform":[{"filter":"datum.k=='b'"}],"mark":{"type":"rule","color":"#000","strokeWidth":4.5},"encoding":{"x2":{"field":"x2"}}},{"transform":[{"filter":"datum.k=='t'"}],"mark":{"type":"text","fontWeight":"bold","fontSize":17,"color":"#111"},"encoding":{"text":{"field":"t"}}},{"transform":[{"filter":"datum.k=='p'"}],"mark":"text","encoding":{"text":{"field":"t"}}}]},
 {"width":164,"height":214,"transform":[{"filter":"datum.c==5&&datum.r==1"}],"encoding":{"x":{"field":"x","type":"quantitative","scale":{"domain":[1515,1679],"nice":false,"zero":false},"axis":{"values":[1550,1600,1650],"format":"d","title":"pcDNA3.1","titleX":90}},"y":{"field":"y","type":"quantitative","scale":{"domain":[-6,208],"nice":false,"zero":false},"axis":null}},
  "layer":[{"transform":[{"filter":"datum.k=='t'"}],"mark":{"type":"rule","color":"#8c8c8c","strokeWidth":3},"encoding":{"x":{"datum":1515},"y":{"datum":206},"y2":{"datum":-4}}},{"transform":[{"filter":"!datum.k"}],"mark":"line","encoding":{}},{"transform":[{"filter":"datum.k=='b'"}],"mark":{"type":"rule","color":"#000","strokeWidth":4.5},"encoding":{"x2":{"field":"x2"}}},{"transform":[{"filter":"datum.k=='t'"}],"mark":{"type":"text","fontWeight":"bold","fontSize":17,"color":"#111"},"encoding":{"text":{"field":"t"}}},{"transform":[{"filter":"datum.k=='p'"}],"mark":"text","encoding":{"text":{"field":"t"}}}]},
 {"width":162,"height":214,"transform":[{"filter":"datum.c==6&&datum.r==1"}],"encoding":{"x":{"field":"x","type":"quantitative","scale":{"domain":[1504,1666],"nice":false,"zero":false},"axis":{"values":[1550,1600,1650],"format":"d","title":"pcDNA3.1−KDM5B","titleX":83}},"y":{"field":"y","type":"quantitative","scale":{"domain":[-2,212],"nice":false,"zero":false},"axis":null}},
  "layer":[{"transform":[{"filter":"datum.k=='t'"}],"mark":{"type":"rule","color":"#8c8c8c","strokeWidth":3},"encoding":{"x":{"datum":1504},"y":{"datum":210},"y2":{"datum":-2}}},{"transform":[{"filter":"!datum.k"}],"mark":"line","encoding":{}},{"transform":[{"filter":"datum.k=='b'"}],"mark":{"type":"rule","color":"#000","strokeWidth":4.5},"encoding":{"x2":{"field":"x2"}}},{"transform":[{"filter":"datum.k=='t'"}],"mark":{"type":"text","fontWeight":"bold","fontSize":17,"color":"#111"},"encoding":{"text":{"field":"t"}}},{"transform":[{"filter":"datum.k=='p'"}],"mark":"text","encoding":{"text":{"field":"t"}}}]}
]}
]
}
